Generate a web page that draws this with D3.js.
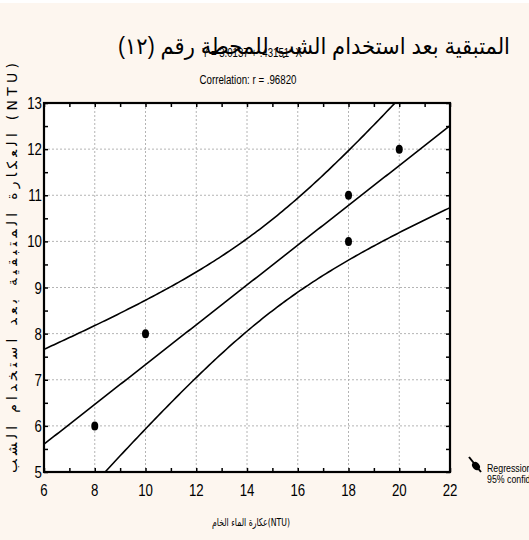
<!DOCTYPE html>
<html>
<head>
<meta charset="utf-8">
<script src="https://cdn.jsdelivr.net/npm/d3@7"></script>
<style>
  body { margin: 0; background: #fff; }
  svg { display: block; }
  .narrow { font-family: "Liberation Sans", Arial, sans-serif; }
</style>
</head>
<body>
<svg id="chart" width="529" height="540"></svg>
<script>
// data
const xVals = [8, 10, 18, 18, 20];
const yVals = [6, 8, 10, 11, 12];
const xTicks = [6, 8, 10, 12, 14, 16, 18, 20, 22];
const yTicks = [5, 6, 7, 8, 9, 10, 11, 12, 13];
const intercept = 3.0137;
const slope = 0.43151;
const tCrit = 3.182; // t(0.975, n-2 = 3)

const titleText = "المتبقية بعد استخدام الشب للمحطة رقم (١٢)";
const eqText = "Y = 3.0137 + .43151* X";
const corrText = "Correlation: r = .96820";
const yTitle = "العكارة المتبقية بعد استخدام الشب (NTU)";
const xTitle = "عكارة الماء الخام(NTU)";
const legendLines = ["Regression", "95% confid."];

const svg = d3.select('#chart');

svg.append('rect').attr('x', 0).attr('y', 0).attr('width', 529).attr('height', 540).attr('fill', '#fdf6ef');
svg.append('rect').attr('x', 0).attr('y', 0).attr('width', 529).attr('height', 3).attr('fill', '#ffffff');

const plot = {left: 44, top: 103, right: 450, bottom: 472};

const x = d3.scaleLinear().domain([6, 22]).range([plot.left, plot.right]);
const y = d3.scaleLinear().domain([5, 13]).range([plot.bottom, plot.top]);

svg.append('rect')
    .attr('x', plot.left).attr('y', plot.top)
    .attr('width', plot.right - plot.left).attr('height', plot.bottom - plot.top)
    .attr('fill', '#ffffff');

// grid
const grid = svg.append('g').attr('stroke', '#b4b4b4').attr('stroke-dasharray', '2,2').attr('stroke-width', 1);
grid.selectAll('line.gx').data(xTicks.slice(1, -1)).join('line')
    .attr('x1', d => x(d)).attr('x2', d => x(d))
    .attr('y1', plot.top).attr('y2', plot.bottom);
grid.selectAll('line.gy').data(yTicks.slice(1, -1)).join('line')
    .attr('y1', d => y(d)).attr('y2', d => y(d))
    .attr('x1', plot.left).attr('x2', plot.right);

// regression line and 95% band, from the points
const n = xVals.length;
const mx = d3.mean(xVals);
const sxx = d3.sum(xVals, v => (v - mx) ** 2);
const sse = d3.sum(xVals, (v, i) => (yVals[i] - (intercept + slope * v)) ** 2);
const s = Math.sqrt(sse / (n - 2));
const xs = d3.range(6, 22.01, 0.1);
const band = k => xs.map(v => {
    const fit = intercept + slope * v;
    const se = s * Math.sqrt(1 / n + (v - mx) ** 2 / sxx);
    return [v, fit + k * tCrit * se];
});

svg.append('clipPath').attr('id', 'clip').append('rect')
    .attr('x', plot.left).attr('y', plot.top)
    .attr('width', plot.right - plot.left).attr('height', plot.bottom - plot.top);

const line = d3.line().x(d => x(d[0])).y(d => y(d[1]));
svg.append('g').attr('clip-path', 'url(#clip)')
    .selectAll('path').data([band(0), band(1), band(-1)]).join('path')
    .attr('d', line).attr('fill', 'none').attr('stroke', '#000').attr('stroke-width', 1.6);

// points
svg.append('g').selectAll('ellipse').data(xVals).join('ellipse')
    .attr('cx', d => x(d)).attr('cy', (d, i) => y(yVals[i]))
    .attr('rx', 3.5).attr('ry', 4.5).attr('fill', '#000');

// axes with inward ticks on all four sides
const tickSize = 4;
svg.append('g').attr('transform', `translate(0,${plot.bottom})`)
    .call(d3.axisTop(x).tickValues(d3.range(6, 23, 1)).tickSize(tickSize).tickFormat(''));
svg.append('g').attr('transform', `translate(0,${plot.top})`)
    .call(d3.axisBottom(x).tickValues(d3.range(6, 23, 1)).tickSize(tickSize).tickFormat(''));
svg.append('g').attr('transform', `translate(${plot.left},0)`)
    .call(d3.axisRight(y).tickValues(d3.range(5, 13.01, 0.5)).tickSize(tickSize).tickFormat(''));
svg.append('g').attr('transform', `translate(${plot.right},0)`)
    .call(d3.axisLeft(y).tickValues(d3.range(5, 13.01, 0.5)).tickSize(tickSize).tickFormat(''));
svg.selectAll('.domain').remove();
svg.selectAll('.tick line').attr('stroke', '#000').attr('stroke-width', 1.5);

svg.append('rect')
    .attr('x', plot.left).attr('y', plot.top)
    .attr('width', plot.right - plot.left).attr('height', plot.bottom - plot.top)
    .attr('fill', 'none').attr('stroke', '#000').attr('stroke-width', 2.2);

// tick labels (condensed like the original)
svg.append('g').selectAll('text').data(xTicks).join('text')
    .attr('class', 'narrow')
    .attr('transform', d => `translate(${x(d)},496) scale(0.78,1)`)
    .attr('text-anchor', 'middle').attr('font-size', 17).attr('fill', '#000')
    .text(d => d);
svg.append('g').selectAll('text').data(yTicks).join('text')
    .attr('class', 'narrow')
    .attr('transform', d => `translate(42,${y(d) + 6}) scale(0.78,1)`)
    .attr('text-anchor', 'end').attr('font-size', 17).attr('fill', '#000')
    .text(d => d);

// title + stats
svg.append('text')
    .attr('x', 314).attr('y', 54)
    .attr('text-anchor', 'middle').attr('direction', 'rtl')
    .attr('font-family', '"Liberation Sans", "DejaVu Sans", sans-serif').attr('font-size', 23)
    .attr('textLength', 392).attr('lengthAdjust', 'spacingAndGlyphs')
    .text(titleText);
svg.append('text').attr('class', 'narrow')
    .attr('x', 252).attr('y', 57).attr('text-anchor', 'middle').attr('font-size', 12)
    .attr('textLength', 100).attr('lengthAdjust', 'spacingAndGlyphs')
    .text(eqText);
svg.append('text').attr('class', 'narrow')
    .attr('x', 248).attr('y', 84).attr('text-anchor', 'middle').attr('font-size', 12)
    .attr('textLength', 97).attr('lengthAdjust', 'spacingAndGlyphs')
    .text(corrText);

// axis titles
svg.append('text')
    .attr('transform', 'translate(17,268) rotate(-90)')
    .attr('text-anchor', 'middle').attr('direction', 'ltr')
    .attr('font-family', '"DejaVu Sans", sans-serif').attr('font-size', 14)
    .attr('textLength', 410).attr('lengthAdjust', 'spacing')
    .text(yTitle);
svg.append('text')
    .attr('x', 251).attr('y', 526)
    .attr('text-anchor', 'middle').attr('direction', 'ltr')
    .attr('font-family', '"DejaVu Sans", sans-serif').attr('font-size', 11)
    .attr('textLength', 78).attr('lengthAdjust', 'spacingAndGlyphs')
    .text(xTitle);

// legend
const lg = svg.append('g');
lg.append('line').attr('x1', 469).attr('y1', 457).attr('x2', 481).attr('y2', 472)
    .attr('stroke', '#000').attr('stroke-width', 2);
lg.append('ellipse').attr('cx', 476).attr('cy', 466).attr('rx', 3.5).attr('ry', 4.5)
    .attr('transform', 'rotate(-40,476,466)').attr('fill', '#000');
lg.selectAll('text').data(legendLines).join('text')
    .attr('class', 'narrow')
    .attr('transform', (d, i) => `translate(487,${472 + i * 11}) scale(0.8,1)`)
    .attr('font-size', 11).attr('fill', '#000')
    .text(d => d);
</script>
</body>
</html>
